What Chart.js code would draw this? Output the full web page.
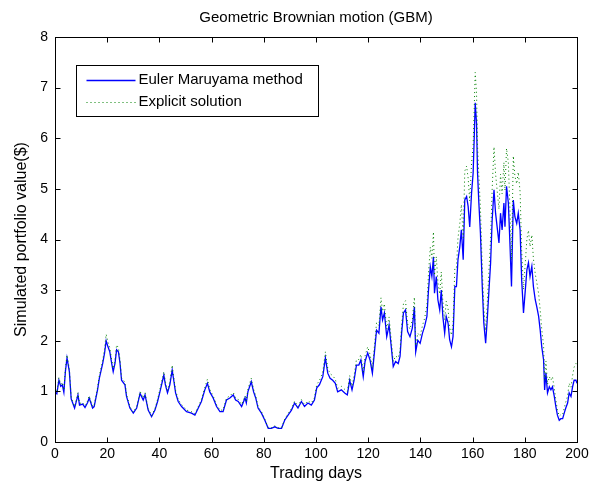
<!DOCTYPE html>
<html>
<head>
<meta charset="utf-8">
<script src="https://cdn.jsdelivr.net/npm/chart.js@4/dist/chart.umd.min.js"></script>
<style>
html,body{margin:0;padding:0;background:#fff;}
canvas{display:block;}
</style>
</head>
<body>
<canvas id="c" width="600" height="483"></canvas>
<script>
const chartTitle = "Geometric Brownian motion (GBM)";
const xAxisLabel = "Trading days";
const yAxisLabel = "Simulated portfolio value($)";
const seriesNames = ["Euler Maruyama method", "Explicit solution"];
const xTickValues = [0,20,40,60,80,100,120,140,160,180,200];
const yTickValues = [0,1,2,3,4,5,6,7,8];

const days = [
0,0.7,1.5,2.2,2.8,3.4,4.0,4.6,5.5,6.2,7.5,8.8,9.4,10.6,11.5,12.5,13.1,14.4,15,16.3,
17,18.3,19,19.6,20.3,21,21.7,22.3,23,23.6,24.3,24.9,25.5,26.8,27.4,28.7,30,31.3,32.6,33.8,
34.5,35.7,37,38.3,39.3,40.2,41.1,41.7,42.3,43.1,44,44.9,45.5,46.2,47.2,48.5,50.4,52.3,53.6,54.9,
56.1,57.4,58.4,59.3,60.6,61.9,63.2,64.4,65.7,67,68.3,69.2,70.2,71.5,72.8,73.3,73.9,75.2,76.1,76.9,
77.8,79.1,80.4,81.7,82.9,84.2,85.5,86.8,88,89.3,90.6,91.8,93.1,94.4,95.6,96.9,98.2,99.4,100.3,101.3,
102.6,103.6,104.5,105.4,106.4,107.4,108.3,109.7,111,112,112.9,113.8,114.6,115.5,116.4,117.2,118.1,118.8,119.8,120.7,
121.6,122.4,123.2,124.1,124.9,125.5,126.2,127.1,128,128.7,129.6,130.5,131.5,132.2,132.8,133.5,134.3,135.1,136,136.9,
137.7,138.2,139,139.9,140.8,141.6,142.5,143.1,143.8,144.4,145,145.4,146.1,146.7,147.4,148,148.6,149.3,149.9,150.6,
151.2,151.9,152.5,153.2,153.8,154.4,155.1,155.7,156.4,157,157.7,158.3,158.9,159.6,160.2,160.6,161.0,161.5,161.9,162.4,
163,163.7,164.3,165,165.6,166.2,166.9,167.5,168.2,168.8,169.4,170.1,170.7,171.3,172,172.4,173,173.7,174.3,174.9,
175.6,176.2,176.9,177.5,178.2,178.8,179.5,180.1,180.8,181.4,182,182.7,183.3,184,184.6,185.3,185.9,186.5,187.2,187.6,
188.1,188.7,189.4,190,190.6,191.3,191.9,192.5,193.2,193.8,194.5,195.1,195.7,196.4,197,197.7,198.3,198.9,199.6,200
];

const eulerValues = [
0.99,0.95,1.22,1.10,1.13,0.98,1.40,1.66,1.39,0.85,0.67,0.93,0.73,0.75,0.68,0.78,0.87,0.67,0.70,1.03,
1.26,1.56,1.76,2.00,1.88,1.78,1.56,1.39,1.56,1.82,1.78,1.56,1.22,1.13,0.90,0.67,0.57,0.67,0.96,0.83,
0.93,0.63,0.50,0.63,0.80,0.99,1.19,1.32,1.13,0.97,1.13,1.42,1.22,0.97,0.80,0.70,0.60,0.57,0.53,0.67,
0.80,1.03,1.16,0.99,0.87,0.70,0.60,0.60,0.83,0.87,0.93,0.83,0.80,0.70,0.87,0.77,0.99,1.19,0.99,0.87,
0.67,0.57,0.43,0.27,0.27,0.30,0.27,0.27,0.43,0.53,0.63,0.77,0.67,0.80,0.70,0.77,0.73,0.83,1.07,1.13,
1.29,1.66,1.36,1.26,1.22,1.16,0.99,1.03,0.97,0.93,1.22,1.03,1.22,1.52,1.52,1.62,1.29,1.59,1.76,1.62,
1.36,1.78,2.21,2.15,2.67,2.41,2.55,2.08,2.31,1.95,1.49,1.59,1.55,1.69,2.15,2.55,2.61,2.18,2.08,2.25,
2.67,1.78,2.01,1.95,2.15,2.28,2.48,3.00,3.46,3.27,3.66,2.94,3.27,2.81,2.61,3.00,2.48,2.15,2.48,2.35,
2.02,1.88,2.08,3.07,3.07,3.60,3.86,4.19,3.60,4.78,4.85,4.65,4.25,4.92,5.31,5.97,6.70,6.30,5.31,4.72,
4.13,3.07,2.35,1.95,2.41,2.94,3.54,4.39,4.98,4.52,4.25,3.93,4.52,4.19,4.72,4.25,5.05,4.72,3.93,3.07,
4.78,4.45,4.32,4.52,4.19,3.20,2.55,2.94,3.40,3.54,3.27,3.47,3.07,2.81,2.67,2.48,2.21,1.88,1.62,1.03,
1.36,0.97,1.09,1.03,1.09,0.90,0.70,0.53,0.43,0.46,0.46,0.57,0.67,0.77,0.97,0.90,1.09,1.22,1.22,1.16
];

const explicitValues = [
1.03,0.99,1.27,1.14,1.18,1.02,1.46,1.72,1.45,0.88,0.70,0.97,0.76,0.78,0.71,0.81,0.91,0.70,0.73,1.07,
1.31,1.62,1.84,2.13,1.97,1.86,1.63,1.45,1.63,1.92,1.86,1.63,1.27,1.18,0.94,0.70,0.59,0.70,1.00,0.87,
0.97,0.66,0.52,0.66,0.84,1.04,1.25,1.39,1.19,1.02,1.19,1.52,1.28,1.02,0.84,0.74,0.63,0.60,0.56,0.70,
0.84,1.08,1.24,1.04,0.91,0.74,0.63,0.63,0.87,0.91,0.98,0.87,0.84,0.74,0.91,0.81,1.04,1.26,1.04,0.91,
0.70,0.60,0.45,0.28,0.28,0.32,0.28,0.28,0.45,0.56,0.66,0.81,0.70,0.84,0.74,0.81,0.77,0.87,1.14,1.21,
1.38,1.78,1.46,1.35,1.31,1.24,1.06,1.10,1.04,1.00,1.31,1.10,1.31,1.63,1.63,1.73,1.38,1.70,1.88,1.73,
1.46,1.90,2.36,2.30,2.85,2.58,2.73,2.23,2.47,2.09,1.59,1.70,1.66,1.81,2.30,2.73,2.79,2.33,2.23,2.41,
2.86,1.90,2.15,2.09,2.30,2.44,2.70,3.33,3.85,3.63,4.15,3.29,3.66,3.15,2.92,3.36,2.78,2.41,2.78,2.63,
2.26,2.11,2.33,3.44,3.44,4.03,4.32,4.69,4.03,5.35,5.45,5.21,4.76,5.51,5.85,6.55,7.30,6.90,5.85,5.25,
4.62,3.45,2.65,2.20,2.72,3.33,4.02,5.00,5.83,5.30,4.97,4.60,5.29,4.90,5.52,4.97,5.80,5.52,4.60,3.59,
5.65,5.25,5.10,5.33,4.94,3.78,3.01,3.47,4.01,4.18,3.86,4.09,3.62,3.32,3.15,2.93,2.61,2.22,1.91,1.22,
1.60,1.14,1.29,1.22,1.29,1.06,0.83,0.63,0.51,0.54,0.54,0.67,0.79,0.91,1.16,1.08,1.31,1.48,1.55,1.48
];

const FONT = "'Liberation Sans', Arial, Helvetica, sans-serif";

const framePlugin = {
  id: 'frame',
  beforeDraw(chart) {
    const ctx = chart.ctx;
    ctx.save();
    ctx.fillStyle = '#fff';
    ctx.fillRect(0, 0, chart.width, chart.height);
    ctx.restore();
  },
  afterDatasetsDraw(chart) {
    const {ctx, chartArea: a, scales} = chart;
    ctx.save();
    ctx.strokeStyle = '#000';
    ctx.lineWidth = 1;
    const L = Math.round(a.left) + 0.5, R = Math.round(a.right) + 0.5;
    const T = Math.round(a.top) + 0.5, B = Math.round(a.bottom) + 0.5;
    ctx.strokeRect(L, T, R - L, B - T);
    const tl = 5;
    ctx.beginPath();
    xTickValues.forEach(v => {
      const x = Math.round(scales.x.getPixelForValue(v)) + 0.5;
      ctx.moveTo(x, B); ctx.lineTo(x, B - tl);
      ctx.moveTo(x, T); ctx.lineTo(x, T + tl);
    });
    yTickValues.forEach(v => {
      const y = Math.round(scales.y.getPixelForValue(v)) + 0.5;
      ctx.moveTo(L, y); ctx.lineTo(L + tl, y);
      ctx.moveTo(R, y); ctx.lineTo(R - tl, y);
    });
    ctx.stroke();

    // legend box
    const lx = Math.round(a.left) + 21.5, ly = Math.round(a.top) + 28.5;
    const lw = 242, lh = 51;
    ctx.fillStyle = '#fff';
    ctx.fillRect(lx, ly, lw, lh);
    ctx.strokeRect(lx, ly, lw, lh);
    const ds = chart.data.datasets;
    const rows = [ly + 14, ly + 36.5];
    ds.forEach((d, i) => {
      ctx.save();
      ctx.strokeStyle = d.borderColor;
      ctx.lineWidth = d.borderWidth;
      ctx.setLineDash(d.borderDash || []);
      ctx.beginPath();
      ctx.moveTo(lx + 10, Math.round(rows[i]) + 0.5);
      ctx.lineTo(lx + 59, Math.round(rows[i]) + 0.5);
      ctx.stroke();
      ctx.restore();
      ctx.fillStyle = '#000';
      ctx.font = '15px ' + FONT;
      ctx.textBaseline = 'middle';
      ctx.textAlign = 'left';
      ctx.fillText(d.label, lx + 62, rows[i]);
    });

    // title
    ctx.fillStyle = '#000';
    ctx.font = '15px ' + FONT;
    ctx.textAlign = 'center';
    ctx.textBaseline = 'middle';
    ctx.fillText(chartTitle, (a.left + a.right) / 2, 18);
    ctx.restore();
  }
};

const eulerPoints = days.map((d, i) => ({x: d, y: eulerValues[i]}));
const explicitPoints = days.map((d, i) => ({x: d, y: explicitValues[i]}));

new Chart(document.getElementById('c'), {
  type: 'line',
  data: {
    datasets: [
      {
        label: seriesNames[0],
        data: eulerPoints,
        borderColor: '#0000ff',
        borderWidth: 1.3,
        pointRadius: 0,
        tension: 0,
        order: 2
      },
      {
        label: seriesNames[1],
        data: explicitPoints,
        borderColor: '#008000',
        borderWidth: 1,
        borderDash: [1, 3],
        pointRadius: 0,
        tension: 0,
        order: 1
      }
    ]
  },
  options: {
    responsive: false,
    animation: false,
    devicePixelRatio: 1,
    layout: {padding: {top: 37, right: 23, left: 0, bottom: 0}},
    plugins: {
      legend: {display: false},
      title: {display: false},
      tooltip: {enabled: false}
    },
    scales: {
      x: {
        type: 'linear',
        min: 0, max: 200,
        afterFit(s) { s.height = 41; },
        afterBuildTicks(s) { s.ticks = xTickValues.map(v => ({value: v})); },
        grid: {display: false, drawTicks: false},
        border: {display: false},
        ticks: {color: '#000', padding: 4, maxRotation: 0, autoSkip: false, font: {family: FONT, size: 14}},
        title: {display: true, text: xAxisLabel, color: '#000', padding: {top: 0, bottom: 0}, font: {family: FONT, size: 16}}
      },
      y: {
        type: 'linear',
        min: 0, max: 8,
        afterFit(s) { s.width = 55; },
        afterBuildTicks(s) { s.ticks = yTickValues.map(v => ({value: v})); },
        grid: {display: false, drawTicks: false},
        border: {display: false},
        ticks: {color: '#000', padding: 7, autoSkip: false, font: {family: FONT, size: 14}},
        title: {display: true, text: yAxisLabel, color: '#000', padding: {top: 12, bottom: 0}, font: {family: FONT, size: 16}}
      }
    }
  },
  plugins: [framePlugin]
});
</script>
</body>
</html>
